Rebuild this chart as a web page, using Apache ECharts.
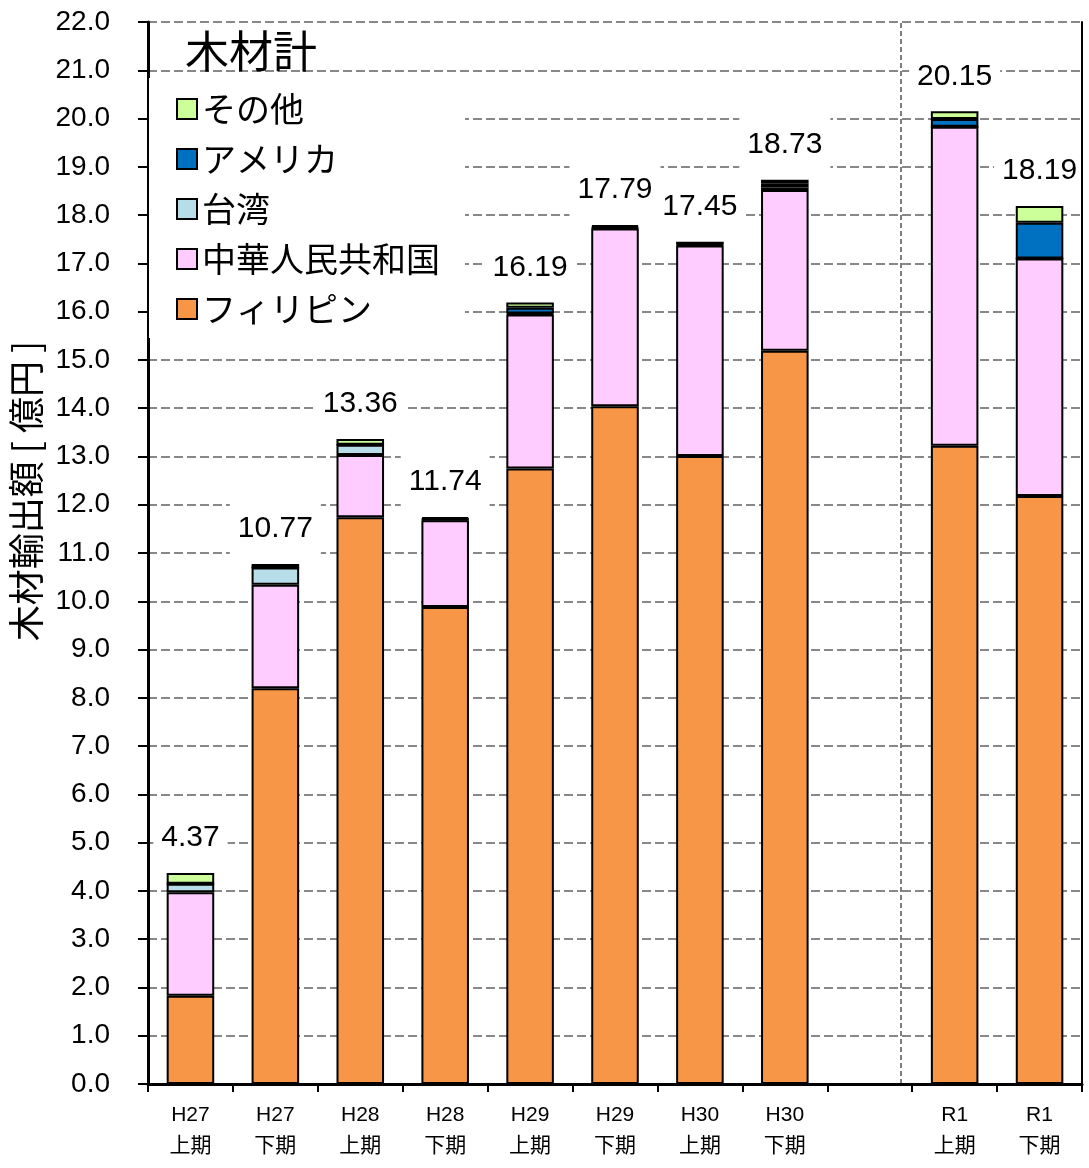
<!DOCTYPE html>
<html><head><meta charset="utf-8">
<script src="https://cdn.jsdelivr.net/npm/echarts@6/dist/echarts.min.js"></script>
<style>html,body{margin:0;padding:0;background:#fff}#c{width:1089px;height:1168px}</style>
</head><body><div id="c"></div>
<script>
const categories = ['H27\n上期','H27\n下期','H28\n上期','H28\n下期','H29\n上期','H29\n下期','H30\n上期','H30\n下期','','R1\n上期','R1\n下期'];
const philippines = [1.83, 8.20, 11.74, 9.88, 12.75, 14.04, 13.01, 15.19, '-', 13.22, 12.18];
const china       = [2.14, 2.14, 1.29, 1.80, 3.19, 3.68, 4.36, 3.33, '-', 6.61, 4.92];
const taiwan      = [0.18, 0.36, 0.21, 0.02, 0.02, 0.02, 0.02, 0.05, '-', 0, 0];
const usa         = [0, 0, 0, 0.01, 0.12, 0.02, 0.01, 0.08, '-', 0.16, 0.74];
const others      = [0.22, 0.07, 0.12, 0.03, 0.11, 0.03, 0.05, 0.08, '-', 0.16, 0.35];
const totals      = [4.37, 10.77, 13.36, 11.74, 16.19, 17.79, 17.45, 18.73, null, 20.15, 18.19];
const seriesNames = ['フィリピン','中華人民共和国','台湾','アメリカ','その他'];
const seriesColors = ['#F79646','#FFCCFF','#B7DEE8','#0070C0','#CCFF99'];
const separatorPos = 8.86;

const NUM_FONT = "'Liberation Sans', 'Noto Sans CJK JP', sans-serif";
const JP_FONT = "'Noto Sans CJK JP', sans-serif";

const dataSets = [philippines, china, taiwan, usa, others];
const series = dataSets.map((d, i) => {
  const s = {
    name: seriesNames[i], type: 'bar', stack: 'total', barWidth: '56%',
    data: d,
    itemStyle: { color: seriesColors[i], borderColor: '#000', borderWidth: 2 },
    emphasis: { disabled: true }
  };
  if (i === dataSets.length - 1) {
    s.label = {
      show: true, position: 'top', distance: 8,
      formatter: p => totals[p.dataIndex] == null ? '' : totals[p.dataIndex].toFixed(2),
      fontSize: 30, fontFamily: NUM_FONT, color: '#000',
      backgroundColor: '#fff', padding: [12, 8], lineHeight: 30
    };
  }
  return s;
});
series.push({
  type: 'line', xAxisIndex: 1, yAxisIndex: 0, data: [], silent: true,
  markLine: {
    symbol: 'none', silent: true, label: { show: false },
    lineStyle: { color: '#555', type: [5, 3], width: 1.5 },
    data: [{ xAxis: separatorPos }]
  }
});

const chart = echarts.init(document.getElementById('c'), null, { renderer: 'canvas' });
chart.setOption({
  animation: false,
  backgroundColor: '#fff',
  title: {
    text: '木材計', left: 185, top: 29, padding: 0,
    textStyle: { fontSize: 44, fontWeight: 'normal', fontFamily: JP_FONT, color: '#000' }
  },
  legend: {
    data: ['その他','アメリカ','台湾','中華人民共和国','フィリピン'],
    orient: 'vertical', left: 149, top: 78,
    backgroundColor: '#fff', padding: [14, 25, 12, 27],
    itemWidth: 20, itemHeight: 20, itemGap: 16, icon: 'rect',
    textStyle: { fontSize: 34, fontFamily: JP_FONT, color: '#000', lineHeight: 34 }
  },
  grid: { left: 147, right: 7, top: 22, bottom: 84, show: false },
  xAxis: [{
    type: 'category', data: categories,
    axisLine: { lineStyle: { color: '#000', width: 3 } },
    axisTick: { show: true, length: 8, lineStyle: { color: '#000', width: 2 } },
    axisLabel: { interval: 0, fontSize: 21, lineHeight: 31, margin: 16, color: '#000', fontFamily: NUM_FONT },
    splitLine: { show: false }
  }, {
    type: 'value', min: 0, max: 11, position: 'top', z: 10,
    axisLine: { show: true, lineStyle: { color: '#000', width: 2 } },
    axisTick: { show: false }, axisLabel: { show: false }, splitLine: { show: false }
  }],
  yAxis: [{
    type: 'value', min: 0, max: 22, interval: 1,
    name: '木材輸出額 [ 億円 ]', nameLocation: 'middle', nameRotate: 90, nameGap: 104,
    nameTextStyle: { fontSize: 36, fontFamily: JP_FONT, color: '#000', padding: [0, 0, 0, 124] },
    axisLine: { show: true, lineStyle: { color: '#000', width: 3 } },
    axisTick: { show: true, length: 10, lineStyle: { color: '#000', width: 2 } },
    axisLabel: { formatter: v => v.toFixed(1), fontSize: 28, margin: 38, color: '#000', fontFamily: NUM_FONT },
    splitLine: { lineStyle: { color: '#888', type: [9, 4], width: 2 } }
  }, {
    type: 'value', min: 0, max: 22, position: 'right', z: 10,
    axisLine: { show: true, lineStyle: { color: '#000', width: 2 } },
    axisTick: { show: false }, axisLabel: { show: false }, splitLine: { show: false }
  }],
  series: series
});
</script></body></html>
